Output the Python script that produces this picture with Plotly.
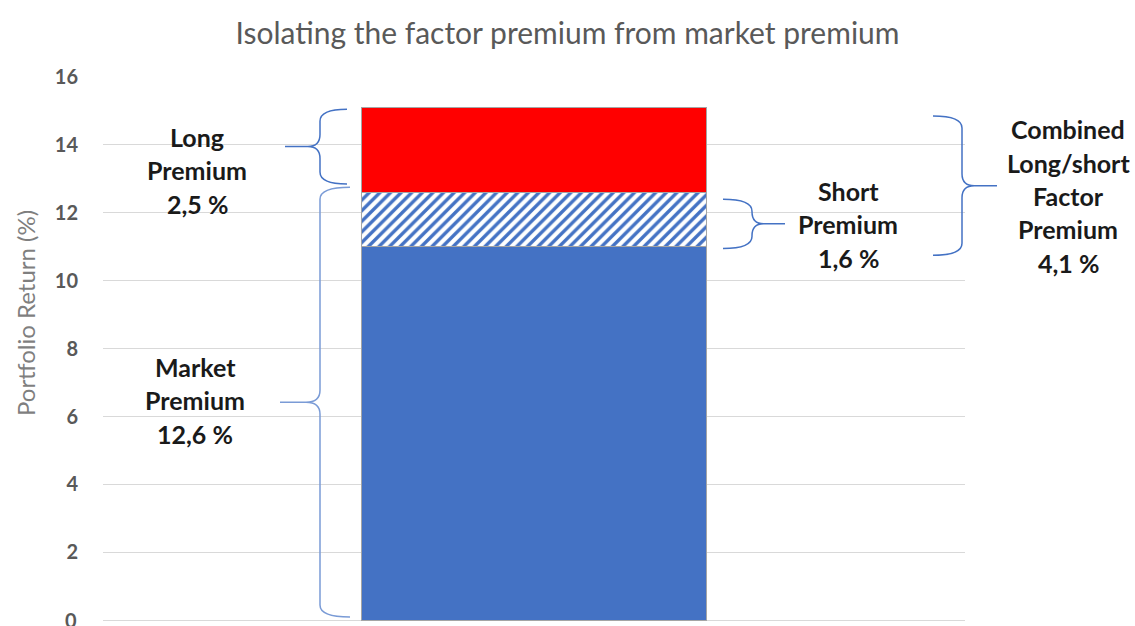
import plotly.graph_objects as go

# ---------------- data ----------------
categories = ["Portfolio"]
segment_names = ["Market (excl. short)", "Short Premium", "Long Premium"]
market_premium = [12.6]
short_premium = [1.6]
long_premium = [2.5]
y_ticks = [0, 2, 4, 6, 8, 10, 12, 14, 16]

def pct(v):
    return f"{v:.1f}".replace(".", ",") + " %"

base_segment = [m - s for m, s in zip(market_premium, short_premium)]
combined_premium = [l + s for l, s in zip(long_premium, short_premium)]

label_lines = {
    "long": ["Long", "Premium", pct(long_premium[0])],
    "market": ["Market", "Premium", pct(market_premium[0])],
    "short": ["Short", "Premium", pct(short_premium[0])],
    "combined": ["Combined", "Long/short", "Factor", "Premium", pct(combined_premium[0])],
}

# ---------------- layout geometry (pixels) ----------------
W, H = 1135, 626
ML, MR, MT, MB = 103, 170, 77, 5
PW, PH = W - ML - MR, H - MT - MB
YMIN, YMAX = -0.02, 16

def xp(px):
    return (px - ML) / PW

def yp_pix(py):
    return (H - MB - py) / PH

def ypix_of(v):
    return MT + PH * (YMAX - v) / (YMAX - YMIN)

BLUE = "#4472C4"
RED = "#FF0000"
FONT = "Lato"
TICK_FONT = dict(family=FONT, size=20, color="#595959")

fig = go.Figure()
fig.add_trace(go.Bar(x=categories, y=base_segment, name=segment_names[0], width=0.4,
                     marker=dict(color=BLUE, line=dict(color="#A5A5A5", width=1))))
fig.add_trace(go.Bar(x=categories, y=short_premium, name=segment_names[1], width=0.4,
                     marker=dict(color="white", line=dict(color="#A5A5A5", width=1),
                                 pattern=dict(shape="/", fgcolor=BLUE, bgcolor="white",
                                              size=7.5, solidity=0.45, fillmode="replace"))))
fig.add_trace(go.Bar(x=categories, y=long_premium, name=segment_names[2], width=0.4,
                     marker=dict(color=RED, line=dict(color="#A5A5A5", width=1))))

# ---------------- braces ----------------
def brace(x_tip, x_spine, x_point, v_top, v_bot, color=BLUE):
    yt, yb = ypix_of(v_top), ypix_of(v_bot)
    ym = (yt + yb) / 2
    r = min(12, (yb - yt) / 4)
    xc = x_spine + (x_point - x_spine) * 0.35
    def P(x, y):
        return f"{xp(x):.5f},{yp_pix(y):.5f}"
    d = (f"M {P(x_tip, yt)} Q {P(x_spine, yt)} {P(x_spine, yt + r)} "
         f"L {P(x_spine, ym - r)} Q {P(x_spine, ym)} {P(xc, ym)} "
         f"Q {P(x_spine, ym)} {P(x_spine, ym + r)} "
         f"L {P(x_spine, yb - r)} Q {P(x_spine, yb)} {P(x_tip, yb)} "
         f"M {P(xc, ym)} L {P(x_point, ym)}")
    fig.add_shape(type="path", path=d, xref="paper", yref="paper",
                  line=dict(color=color, width=1.5))

m, s, l = market_premium[0], short_premium[0], long_premium[0]
b = base_segment[0]
brace(347, 320, 285, m + l - 0.05, m + 0.25)          # long premium
brace(350, 320, 280, m + 0.15, 0.1, color="#7A9BD6")  # market premium
brace(723, 752, 785, m - 0.2, b - 0.05)               # short premium
brace(933, 962, 997, m + l - 0.25, b - 0.25)          # combined

# ---------------- labels ----------------
LINE_H = 33.5
lab_font = dict(family=FONT, size=25, color="#1a1a1a")
for key, (cx, cy) in {"long": (197, 170), "market": (195, 400),
                      "short": (848, 224), "combined": (1068, 196)}.items():
    lines = label_lines[key]
    n = len(lines)
    for i, t in enumerate(lines):
        y_line = cy + (i - (n - 1) / 2) * LINE_H
        fig.add_annotation(text="<b>" + t + "</b>", x=xp(cx), y=yp_pix(y_line),
                           xref="paper", yref="paper", showarrow=False,
                           xanchor="center", yanchor="middle", align="center", font=lab_font)

fig.add_annotation(text="Portfolio Return (%)", x=xp(25), y=yp_pix(313), xref="paper", yref="paper",
                   showarrow=False, textangle=-90, xanchor="center", yanchor="middle",
                   font=dict(family=FONT, size=24, color="#7F7F7F"))

# the bottom tick label sits on the figure edge (half cut off), drawn as an axis-anchored note
fig.add_annotation(text=f"<b>{y_ticks[0]}</b>", x=xp(79), y=y_ticks[0], xref="paper", yref="y",
                   showarrow=False, xanchor="right", yanchor="middle", font=TICK_FONT)

fig.update_layout(
    width=W, height=H,
    margin=dict(l=ML, r=MR, t=MT, b=MB, autoexpand=False),
    barmode="stack", bargap=0.6,
    showlegend=False,
    plot_bgcolor="white", paper_bgcolor="white",
    title=dict(text="Isolating the factor premium from market premium", x=0.5, xref="container",
               y=1 - 33 / H, yref="container", xanchor="center", yanchor="middle",
               font=dict(family=FONT, size=30, color="#595959")),
    xaxis=dict(range=[-0.5, 0.5], showticklabels=False, showgrid=False, zeroline=False,
               showline=False, fixedrange=True),
    yaxis=dict(range=[YMIN, YMAX], tickvals=y_ticks[1:], ticktext=[f"<b>{v}</b>" for v in y_ticks[1:]],
               showgrid=True, gridcolor="#D9D9D9", gridwidth=1,
               zeroline=True, zerolinecolor="#D9D9D9", zerolinewidth=1,
               showline=False, ticks="", ticklabelstandoff=24,
               tickfont=TICK_FONT),
)

fig.write_html("out.html", config={"displayModeBar": False},
               post_script="document.body.style.margin='0';document.body.style.overflow='hidden';")
